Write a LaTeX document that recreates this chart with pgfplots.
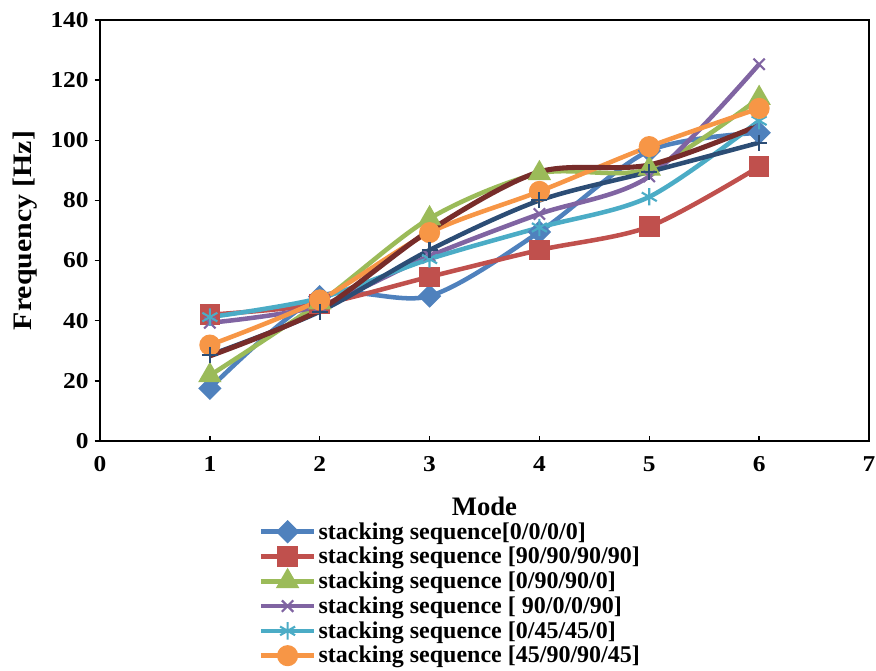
\documentclass[border=0pt]{standalone}
\usepackage{fontspec}
\setmainfont{Liberation Serif}
\newfontfamily\wide[FakeStretch=1.12]{Liberation Serif}
\usepackage{pgfplots}
\pgfplotsset{compat=1.18}
\definecolor{c1}{HTML}{4F81BD}
\definecolor{c2}{HTML}{C0504D}
\definecolor{c3}{HTML}{9BBB59}
\definecolor{c4}{HTML}{8064A2}
\definecolor{c5}{HTML}{4BACC6}
\definecolor{c6}{HTML}{F79646}
\definecolor{c7}{HTML}{2C4D75}
\definecolor{c8}{HTML}{772C2A}
\begin{document}
\begin{tikzpicture}
\useasboundingbox (-75pt,-172.5pt) rectangle (582pt,330.75pt);
\begin{axis}[
  at={(0,0)}, anchor=south west, scale only axis,
  width=576.75pt, height=315.75pt,
  xmin=0, xmax=7, ymin=0, ymax=140,
  xtick={0,1,...,7}, ytick={0,20,...,140},
  xtick pos=bottom, ytick pos=left,
  tick align=inside, major tick length=4pt,
  y tick style={xshift=-4pt},
  tick style={black, line width=1pt},
  axis line style={black, line width=1.3pt},
  ticklabel style={font=\wide\bfseries\fontsize{17}{17}\selectfont},
  /pgf/number format/assume math mode=true,
  yticklabel style={xshift=-5pt},
  xticklabel style={yshift=-8pt},
  xlabel={Mode},
  xlabel style={font=\bfseries\fontsize{20}{20}\selectfont, at={(axis description cs:0.5,-0.155)}, anchor=center},
  ylabel={Frequency [Hz]},
  ylabel style={font=\wide\bfseries\fontsize{20}{20}\selectfont, at={(axis description cs:-0.0975,0.5)}, anchor=center},
  legend style={at={(axis description cs:0.206,-0.188)}, anchor=north west, draw=none, fill=none,
    font=\bfseries\fontsize{18}{18}\selectfont, row sep=1.6pt, inner sep=0pt,
    nodes={inner sep=1.5pt}},
  legend cell align=left,
  legend image code/.code={\draw[mark repeat=2,mark phase=2,#1] plot coordinates {(0pt,0pt) (20pt,0pt) (40pt,0pt)};},
  every axis plot/.append style={line width=3.4pt, smooth},
]
\addplot[c1, mark=square*, mark size=4.5pt, mark options={rotate=45, solid}]
  coordinates {(1,17.5)(2,48)(3,48.2)(4,69.5)(5,96.5)(6,102.5)};
\addlegendentry{stacking sequence[0/0/0/0]}
\addplot[c2, mark=square*, mark size=6pt, mark options={solid}]
  coordinates {(1,42)(2,45.5)(3,54.6)(4,63.5)(5,71.3)(6,91.2)};
\addlegendentry{stacking sequence [90/90/90/90]}
\addplot[c3, mark=triangle*, mark size=6.8pt, mark options={solid}]
  coordinates {(1,21.8)(2,46)(3,74)(4,89)(5,90.5)(6,114)};
\addlegendentry{stacking sequence [0/90/90/0]}
\addplot[c4, mark=x, mark size=6pt, mark options={solid, line width=1.6pt}]
  coordinates {(1,39.3)(2,45)(3,61.5)(4,75.5)(5,88)(6,125.3)};
\addlegendentry{stacking sequence [ 90/0/0/90]}
\addplot[c5, mark=asterisk, mark size=6.5pt, mark options={solid, line width=1.6pt}]
  coordinates {(1,41.2)(2,47.5)(3,60.5)(4,71)(5,81.2)(6,106.5)};
\addlegendentry{stacking sequence [0/45/45/0]}
\addplot[c6, mark=*, mark size=6.2pt, mark options={solid}]
  coordinates {(1,31.9)(2,46.9)(3,69.3)(4,83)(5,97.9)(6,110.6)};
\addlegendentry{stacking sequence [45/90/90/45]}
\addplot[c7, mark=+, mark size=6pt, mark options={solid, line width=1.6pt}, forget plot]
  coordinates {(1,28.6)(2,43)(3,63.5)(4,80)(5,89.5)(6,99.2)};
\addplot[c8, no marks, line width=3.8pt, forget plot]
  coordinates {(1,28.3)(2,43.6)(3,70)(4,89.5)(5,91.8)(6,105)};
\end{axis}
\end{tikzpicture}
\end{document}
